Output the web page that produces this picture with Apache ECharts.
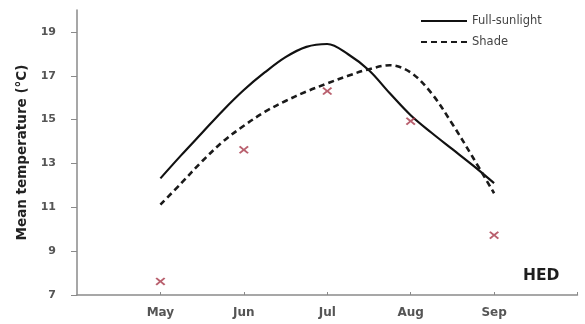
<!DOCTYPE html>
<html>
<head>
<meta charset="utf-8">
<script src="https://cdn.jsdelivr.net/npm/echarts@6/dist/echarts.min.js"></script>
<style>
  html, body { margin: 0; padding: 0; background: #fff; }
  #chart { width: 585px; height: 324px; }
</style>
</head>
<body>
<div id="chart"></div>
<script>
// Month categories placed at positions 1..5 on a numeric x axis (0..6)
const months = ['May', 'Jun', 'Jul', 'Aug', 'Sep'];
const monthPos = [1, 2, 3, 4, 5];

// Modelled temperature curves, sampled every quarter month (°C)
const curvePos = [1, 1.25, 1.5, 1.75, 2, 2.25, 2.5, 2.75, 3, 3.25, 3.5, 3.75, 4, 4.25, 4.5, 4.75, 5];
const fullSunlightTemp = [12.32, 13.38, 14.4, 15.42, 16.35, 17.15, 17.85, 18.32, 18.45, 17.98, 17.25, 16.2, 15.2, 14.4, 13.65, 12.9, 12.1];
const shadeTemp = [11.12, 12.1, 13.1, 14.0, 14.72, 15.35, 15.85, 16.28, 16.65, 17.0, 17.3, 17.48, 17.15, 16.2, 14.8, 13.25, 11.64];

// Observed monthly mean temperatures
const observedTemp = [7.62, 13.62, 16.3, 14.93, 9.73];

// Y axis tick labels
const yTicks = [7, 9, 11, 13, 15, 17, 19];

const pairs = (xs, ys) => xs.map((x, i) => [x, ys[i]]);

const axisGrey = '#8a8a8a';
const fontStack = '"DejaVu Sans", sans-serif';
const labelStyle = {
  color: '#555',
  fontFamily: fontStack,
  fontWeight: 'bold',
  fontSize: 12
};

const chart = echarts.init(document.getElementById('chart'), null, { renderer: 'canvas' });

chart.setOption({
  animation: false,
  backgroundColor: '#fff',
  grid: { left: 77, right: 7.5, top: 10, bottom: 29, containLabel: false },
  legend: {
    data: ['Full-sunlight', 'Shade'],
    orient: 'vertical',
    left: 415,
    top: 10,
    itemWidth: 46,
    itemHeight: 10,
    itemGap: 9,
    itemStyle: { opacity: 0 },
    textStyle: { color: '#444', fontSize: 11.5, fontFamily: fontStack }
  },
  xAxis: {
    type: 'value',
    min: 0,
    max: 6,
    axisLine: { lineStyle: { color: axisGrey, width: 1.5 } },
    axisTick: { inside: true, length: 3, customValues: [1, 2, 3, 4, 5, 6], lineStyle: { color: axisGrey } },
    axisLabel: Object.assign({}, labelStyle, {
      margin: 12,
      customValues: monthPos,
      formatter: v => months[Math.round(v) - 1] || ''
    }),
    splitLine: { show: false }
  },
  yAxis: {
    type: 'value',
    min: 7,
    max: 20,
    name: 'Mean temperature (°C)',
    nameLocation: 'middle',
    nameGap: 38,
    nameTextStyle: { color: '#222', fontWeight: 'bold', fontSize: 13.5, fontFamily: fontStack },
    axisLine: { show: true, lineStyle: { color: axisGrey, width: 1.5 } },
    axisTick: { show: true, length: 6, customValues: yTicks, lineStyle: { color: axisGrey } },
    axisLabel: Object.assign({}, labelStyle, { margin: 21, customValues: yTicks, fontSize: 11 }),
    splitLine: { show: false }
  },
  graphic: [{
    type: 'text',
    left: 523,
    top: 268,
    style: { text: 'HED', fill: '#1e1e1e', font: 'bold 15.5px "DejaVu Sans", sans-serif' }
  }],
  series: [
    {
      name: 'Full-sunlight',
      type: 'line',
      data: pairs(curvePos, fullSunlightTemp),
      smooth: 0.35,
      symbol: 'none',
      lineStyle: { color: '#111', width: 2.2, type: 'solid' },
      itemStyle: { color: '#111' }
    },
    {
      name: 'Shade',
      type: 'line',
      data: pairs(curvePos, shadeTemp),
      smooth: 0.35,
      symbol: 'none',
      lineStyle: { color: '#1a1a1a', width: 2.6, type: [6, 4] },
      itemStyle: { color: '#1a1a1a' }
    },
    {
      name: 'Observed',
      type: 'scatter',
      data: pairs(monthPos, observedTemp),
      symbol: 'path://M0,1.5 L1.5,0 L5,3.5 L8.5,0 L10,1.5 L6.5,5 L10,8.5 L8.5,10 L5,6.5 L1.5,10 L0,8.5 L3.5,5 Z',
      symbolSize: [10, 8],
      itemStyle: { color: '#a8384a' },
      z: 5
    }
  ]
});
</script>
</body>
</html>
